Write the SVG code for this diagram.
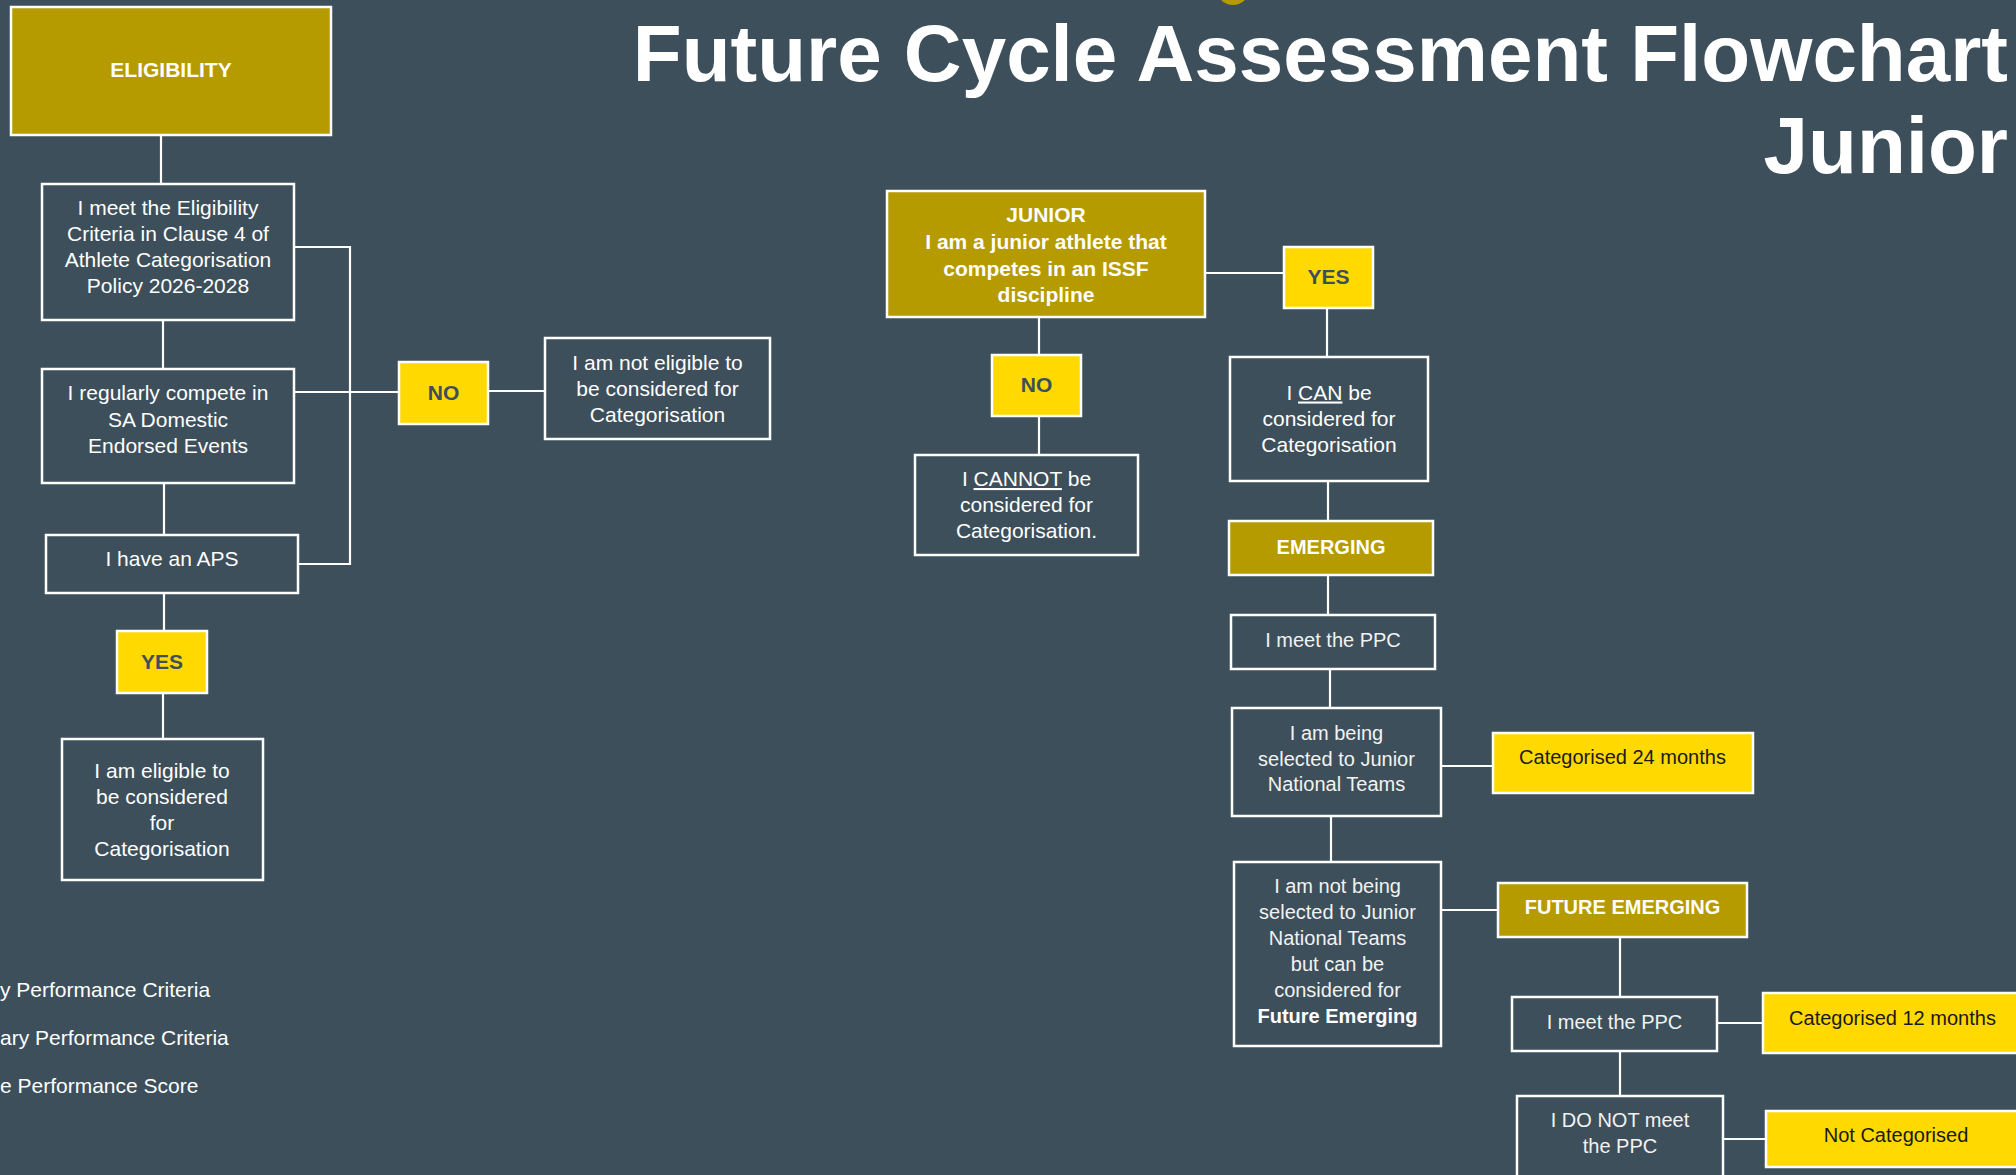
<svg xmlns="http://www.w3.org/2000/svg" width="2016" height="1175" viewBox="0 0 2016 1175">
<style>
.bg{fill:#3D4F5A}
.box{fill:#3D4F5A;stroke:#FFFFFF;stroke-width:2.5}
.gold{fill:#B59A00;stroke:#FFFFFF;stroke-width:2.5}
.yel{fill:#FFD900;stroke:#FFFFFF;stroke-width:2.5}
.conn{fill:none;stroke:#FFFFFF;stroke-width:2.2}
text{font-family:"Liberation Sans",Arial,sans-serif;text-anchor:middle}
.t{fill:#FFFFFF;font-size:21px}
.tb{fill:#FFFFFF;font-size:21px;font-weight:bold}
.yn{fill:#3D4F5A;font-size:21px;font-weight:bold}
.ap{fill:#F2F2F2;font-size:20px}
.apb{fill:#FFFFFF;font-size:20px;font-weight:bold}
.dk{fill:#1A1A1A;font-size:20px}
.lg{fill:#FFFFFF;font-size:21px;text-anchor:start}
.title{fill:#FFFFFF;font-size:80px;font-weight:bold;text-anchor:end}
.u{text-decoration:underline}
</style>
<rect class="bg" x="0" y="0" width="2016" height="1175"/>
<circle cx="1233" cy="-12" r="17" fill="#B59A00"/>
<g id="title">
<text class="title" x="2008" y="81">Future Cycle Assessment Flowchart</text>
<text class="title" x="2008" y="173">Junior</text>
</g>
<g id="connectors">
<path class="conn" d="M161 135V184"/>
<path class="conn" d="M163 320V369"/>
<path class="conn" d="M164 483V535"/>
<path class="conn" d="M164 593V631"/>
<path class="conn" d="M163 693V739"/>
<path class="conn" d="M294 247H350V564H298"/>
<path class="conn" d="M294 392H399"/>
<path class="conn" d="M488 391H545"/>
<path class="conn" d="M1205 273H1284"/>
<path class="conn" d="M1039 317V355"/>
<path class="conn" d="M1039 416V455"/>
<path class="conn" d="M1327 308V357"/>
<path class="conn" d="M1328 481V521"/>
<path class="conn" d="M1328 575V615"/>
<path class="conn" d="M1330 669V708"/>
<path class="conn" d="M1441 766H1493"/>
<path class="conn" d="M1331 816V862"/>
<path class="conn" d="M1441 910H1498"/>
<path class="conn" d="M1620 937V997"/>
<path class="conn" d="M1717 1023H1763"/>
<path class="conn" d="M1620 1051V1096"/>
<path class="conn" d="M1723 1139H1766"/>
</g>
<g id="eligibility">
<rect class="gold" x="11" y="7" width="320" height="128"/>
<text class="tb" x="171" y="77">ELIGIBILITY</text>
</g>
<g id="meet-criteria">
<rect class="box" x="42" y="184" width="252" height="136"/>
<text class="t" x="168" y="215">I meet the Eligibility</text>
<text class="t" x="168" y="241">Criteria in Clause 4 of</text>
<text class="t" x="168" y="267">Athlete Categorisation</text>
<text class="t" x="168" y="293">Policy 2026-2028</text>
</g>
<g id="compete">
<rect class="box" x="42" y="369" width="252" height="114"/>
<text class="t" x="168" y="400">I regularly compete in</text>
<text class="t" x="168" y="427">SA Domestic</text>
<text class="t" x="168" y="453">Endorsed Events</text>
</g>
<g id="aps">
<rect class="box" x="46" y="535" width="252" height="58"/>
<text class="t" x="172" y="566">I have an APS</text>
</g>
<g id="no-left">
<rect class="yel" x="399" y="362" width="89" height="62"/>
<text class="yn" x="443.5" y="399.5">NO</text>
</g>
<g id="not-eligible">
<rect class="box" x="545" y="338" width="225" height="101"/>
<text class="t" x="657.5" y="370">I am not eligible to</text>
<text class="t" x="657.5" y="396">be considered for</text>
<text class="t" x="657.5" y="422">Categorisation</text>
</g>
<g id="yes-left">
<rect class="yel" x="117" y="631" width="90" height="62"/>
<text class="yn" x="162" y="668.5">YES</text>
</g>
<g id="eligible">
<rect class="box" x="62" y="739" width="201" height="141"/>
<text class="t" x="162" y="777.5">I am eligible to</text>
<text class="t" x="162" y="803.5">be considered</text>
<text class="t" x="162" y="829.5">for</text>
<text class="t" x="162" y="855.5">Categorisation</text>
</g>
<g id="legend">
<text class="lg" x="0" y="996.5">y Performance Criteria</text>
<text class="lg" x="0" y="1045">ary Performance Criteria</text>
<text class="lg" x="0" y="1093">e Performance Score</text>
</g>
<g id="junior">
<rect class="gold" x="887" y="191" width="318" height="126"/>
<text class="tb" x="1046" y="222">JUNIOR</text>
<text class="tb" x="1046" y="248.5">I am a junior athlete that</text>
<text class="tb" x="1046" y="275.5">competes in an ISSF</text>
<text class="tb" x="1046" y="302">discipline</text>
</g>
<g id="yes-right">
<rect class="yel" x="1284" y="247" width="89" height="61"/>
<text class="yn" x="1328.5" y="283.5">YES</text>
</g>
<g id="no-right">
<rect class="yel" x="992" y="355" width="89" height="61"/>
<text class="yn" x="1036.5" y="391.5">NO</text>
</g>
<g id="cannot">
<rect class="box" x="915" y="455" width="223" height="100"/>
<text class="t" x="1026.5" y="486">I <tspan class="u">CANNOT</tspan> be</text>
<text class="t" x="1026.5" y="512">considered for</text>
<text class="t" x="1026.5" y="537.5">Categorisation.</text>
</g>
<g id="can">
<rect class="box" x="1230" y="357" width="198" height="124"/>
<text class="t" x="1329" y="399.5">I <tspan class="u">CAN</tspan> be</text>
<text class="t" x="1329" y="426">considered for</text>
<text class="t" x="1329" y="452">Categorisation</text>
</g>
<g id="emerging">
<rect class="gold" x="1229" y="521" width="204" height="54"/>
<text class="apb" x="1331" y="554">EMERGING</text>
</g>
<g id="ppc1">
<rect class="box" x="1231" y="615" width="204" height="54"/>
<text class="ap" x="1333" y="646.5">I meet the PPC</text>
</g>
<g id="selected">
<rect class="box" x="1232" y="708" width="209" height="108"/>
<text class="ap" x="1336.5" y="739.5">I am being</text>
<text class="ap" x="1336.5" y="765.5">selected to Junior</text>
<text class="ap" x="1336.5" y="790.5">National Teams</text>
</g>
<g id="cat24">
<rect class="yel" x="1493" y="733" width="260" height="60"/>
<text class="dk" x="1622.5" y="764">Categorised 24 months</text>
</g>
<g id="not-selected">
<rect class="box" x="1234" y="862" width="207" height="184"/>
<text class="ap" x="1337.5" y="893">I am not being</text>
<text class="ap" x="1337.5" y="919">selected to Junior</text>
<text class="ap" x="1337.5" y="945">National Teams</text>
<text class="ap" x="1337.5" y="971">but can be</text>
<text class="ap" x="1337.5" y="997">considered for</text>
<text class="apb" x="1337.5" y="1022.5">Future Emerging</text>
</g>
<g id="future-emerging">
<rect class="gold" x="1498" y="883" width="249" height="54"/>
<text class="apb" x="1622.5" y="914">FUTURE EMERGING</text>
</g>
<g id="ppc2">
<rect class="box" x="1512" y="997" width="205" height="54"/>
<text class="ap" x="1614.5" y="1029">I meet the PPC</text>
</g>
<g id="cat12">
<rect class="yel" x="1763" y="993" width="260" height="60"/>
<text class="dk" x="1892.5" y="1025">Categorised 12 months</text>
</g>
<g id="not-meet">
<rect class="box" x="1517" y="1096" width="206" height="110"/>
<text class="ap" x="1620" y="1127">I DO NOT meet</text>
<text class="ap" x="1620" y="1153">the PPC</text>
</g>
<g id="not-categorised">
<rect class="yel" x="1766" y="1111" width="260" height="56"/>
<text class="dk" x="1896" y="1142">Not Categorised</text>
</g>
</svg>
